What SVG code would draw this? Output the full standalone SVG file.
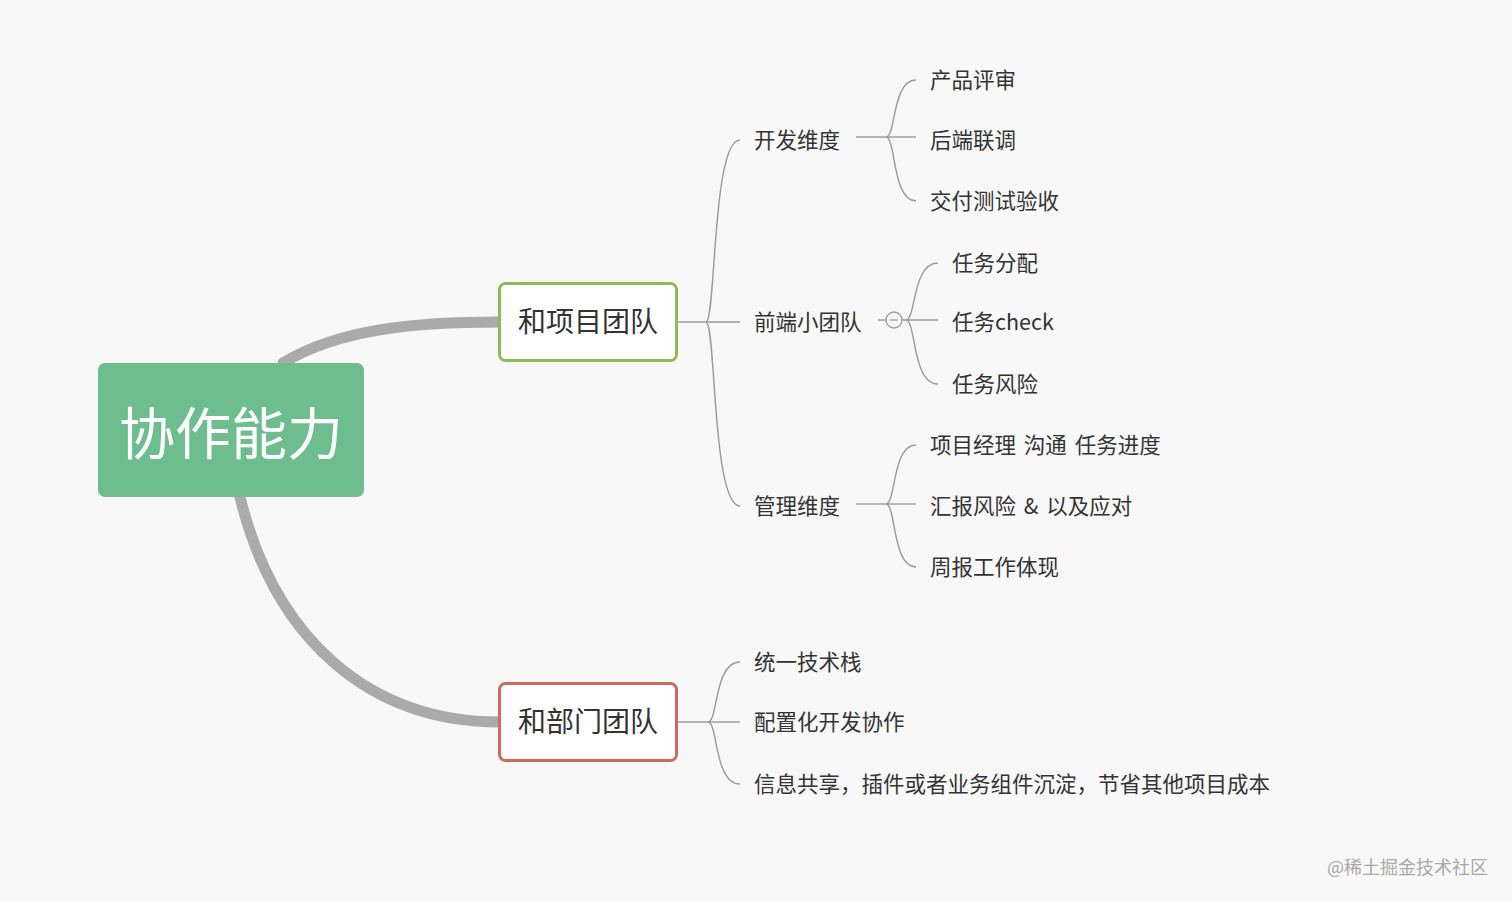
<svg xmlns="http://www.w3.org/2000/svg" width="1512" height="902" viewBox="0 0 1512 902">
<style>
text{font-family:"Noto Sans CJK SC","Noto Sans",sans-serif;dominant-baseline:central}
.lbl{font-size:21.5px;fill:#333;word-spacing:3px}
.main{font-size:28px;fill:#333;text-anchor:middle}
.thick{fill:none;stroke:#aaaaaa;stroke-width:11;stroke-linecap:round}
.thin{fill:none;stroke:#9a9a9a;stroke-width:1.4}
</style>
<rect width="1512" height="902" fill="#f8f8f8"/>
<g id="connectors">
<path class="thick" d="M283 363 C340 328 420 322 500 322"/>
<path class="thick" d="M240 497 C275 640 370 722 500 722"/>
<path class="thin" d="M678 322 L706 322"/>
<path class="thin" d="M706 322 C716 322 712 140 740 140"/>
<path class="thin" d="M706 322 L740 322"/>
<path class="thin" d="M706 322 C716 322 712 506 740 506"/>
<path class="thin" d="M856 137 L886 137"/>
<path class="thin" d="M886 137 C896 137 892 80 916 80"/>
<path class="thin" d="M886 137 L916 137"/>
<path class="thin" d="M886 137 C896 137 892 201 916 201"/>
<path class="thin" d="M878 320 L886 320"/>
<path class="thin" d="M902 320 L938 320"/>
<path class="thin" d="M906 320 C916 320 912 263 938 263"/>
<path class="thin" d="M906 320 C916 320 912 384 938 384"/>
<path class="thin" d="M856 504 L886 504"/>
<path class="thin" d="M886 504 C896 504 892 445 916 445"/>
<path class="thin" d="M886 504 L916 504"/>
<path class="thin" d="M886 504 C896 504 892 567 916 567"/>
<path class="thin" d="M678 722 L708 722"/>
<path class="thin" d="M708 722 C718 722 714 662 740 662"/>
<path class="thin" d="M708 722 L740 722"/>
<path class="thin" d="M708 722 C718 722 714 784 740 784"/>
<circle cx="894" cy="320" r="8" fill="#f8f8f8" stroke="#9a9a9a" stroke-width="1.3"/>
<path d="M890 320 L898 320" stroke="#9a9a9a" stroke-width="1.3"/>
</g>
<g id="root">
<rect x="98" y="363" width="266" height="134" rx="7" fill="#6dbd8f"/>
<text x="231" y="429" font-size="56" fill="#ffffff" text-anchor="middle">协作能力</text>
</g>
<g id="n-project">
<rect x="499.5" y="283.5" width="177" height="77" rx="6" fill="#ffffff" stroke="#8dbb57" stroke-width="3"/>
<text class="main" x="588" y="320">和项目团队</text>
</g>
<g id="n-dept">
<rect x="499.5" y="683.5" width="177" height="77" rx="6" fill="#ffffff" stroke="#d06a5b" stroke-width="3"/>
<text class="main" x="588" y="720">和部门团队</text>
</g>
<g id="n-dev"><text class="lbl" x="754" y="138">开发维度</text></g>
<g id="n-fe"><text class="lbl" x="754" y="320">前端小团队</text></g>
<g id="n-mgmt"><text class="lbl" x="754" y="504">管理维度</text></g>
<g id="n-d1"><text class="lbl" x="930" y="78">产品评审</text></g>
<g id="n-d2"><text class="lbl" x="930" y="138">后端联调</text></g>
<g id="n-d3"><text class="lbl" x="930" y="199">交付测试验收</text></g>
<g id="n-f1"><text class="lbl" x="952" y="261">任务分配</text></g>
<g id="n-f2"><text class="lbl" x="952" y="320">任务check</text></g>
<g id="n-f3"><text class="lbl" x="952" y="382">任务风险</text></g>
<g id="n-m1"><text class="lbl" x="930" y="443">项目经理 沟通 任务进度</text></g>
<g id="n-m2"><text class="lbl" x="930" y="504">汇报风险 &amp; 以及应对</text></g>
<g id="n-m3"><text class="lbl" x="930" y="565">周报工作体现</text></g>
<g id="n-p1"><text class="lbl" x="754" y="660">统一技术栈</text></g>
<g id="n-p2"><text class="lbl" x="754" y="720">配置化开发协作</text></g>
<g id="n-p3"><text class="lbl" x="754" y="782">信息共享，插件或者业务组件沉淀，节省其他项目成本</text></g>
<text x="1488" y="866" font-size="18" fill="#a8a8a8" text-anchor="end">@稀土掘金技术社区</text>
</svg>
